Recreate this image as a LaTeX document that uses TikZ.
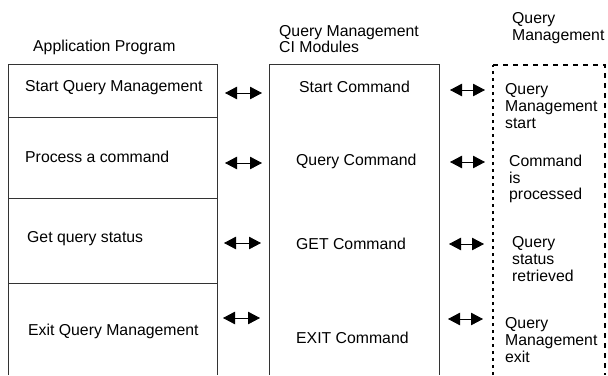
\documentclass[tikz,border=0pt]{standalone}
\usepackage{fontspec}
\setmainfont{Liberation Sans}
\usetikzlibrary{arrows.meta}

\begin{document}
\begin{tikzpicture}[x=1pt,y=-1pt,
   txt/.style={anchor=west,inner sep=0pt,align=left,
      font=\fontsize{15.8}{16.7}\selectfont},
   frame/.style={line width=0.9pt,black!80},
   both/.style={{Triangle[length=12pt,width=12.5pt]}-{Triangle[length=12pt,width=12.5pt]},
      line width=0.8pt}]
   \useasboundingbox (0,0) rectangle (608,375);

   % titles
   \node [txt] (apptitle) at (33,47) {Application Program};
   \node [txt] (cititle) at (279,39) {Query Management\\CI Modules};
   \node [txt] (qmtitle) at (512,28) {Query\\Management};

   % application program
   \draw [frame] (8,375) -- (8,64) -- (217,64) -- (217,375);
   \draw [frame] (8,117) -- (217,117);
   \draw [frame] (8,198) -- (217,198);
   \draw [frame] (8,283) -- (217,283);
   \node [txt] (app1) at (25,88) {Start Query Management};
   \node [txt] (app2) at (25,157) {Process a command};
   \node [txt] (app3) at (27,239) {Get query status};
   \node [txt] (app4) at (28,331) {Exit Query Management};

   % CI modules
   \draw [frame] (269,375) -- (269,64) -- (439,64) -- (439,375);
   \node [txt] (ci1) at (299,87) {Start Command};
   \node [txt] (ci2) at (296,161) {Query Command};
   \node [txt] (ci3) at (296,244) {GET Command};
   \node [txt] (ci4) at (296,338) {EXIT Command};

   % query management
   \draw [line width=1.6pt,dash pattern=on 3pt off 4pt]
      (493,375) -- (493,65);
   \draw [line width=2.4pt,dash pattern=on 5pt off 5pt]
      (493,65) -- (605,65) -- (605,375);
   \node [txt] (qm1) at (505,106) {Query\\Management\\start};
   \node [txt] (qm2) at (509,179) {Command\\is\\processed};
   \node [txt] (qm3) at (512,259) {Query\\status\\retrieved};
   \node [txt] (qm4) at (505,340) {Query\\Management\\exit};

   % arrow ends
   \coordinate (a1) at (225,93);   \coordinate (b1) at (262,93);
   \coordinate (a2) at (225,163);  \coordinate (b2) at (262,163);
   \coordinate (a3) at (224,243);  \coordinate (b3) at (261,243);
   \coordinate (a4) at (223,318);  \coordinate (b4) at (260,318);
   \coordinate (c1) at (450,90);   \coordinate (d1) at (485,90);
   \coordinate (c2) at (450,162);  \coordinate (d2) at (485,162);
   \coordinate (c3) at (449,244);  \coordinate (d3) at (484,244);
   \coordinate (c4) at (448,319);  \coordinate (d4) at (483,319);

   \draw [both] (a1) -- (b1);
   \draw [both] (a2) -- (b2);
   \draw [both] (a3) -- (b3);
   \draw [both] (a4) -- (b4);
   \draw [both] (c1) -- (d1);
   \draw [both] (c2) -- (d2);
   \draw [both] (c3) -- (d3);
   \draw [both] (c4) -- (d4);
\end{tikzpicture}
\end{document}
